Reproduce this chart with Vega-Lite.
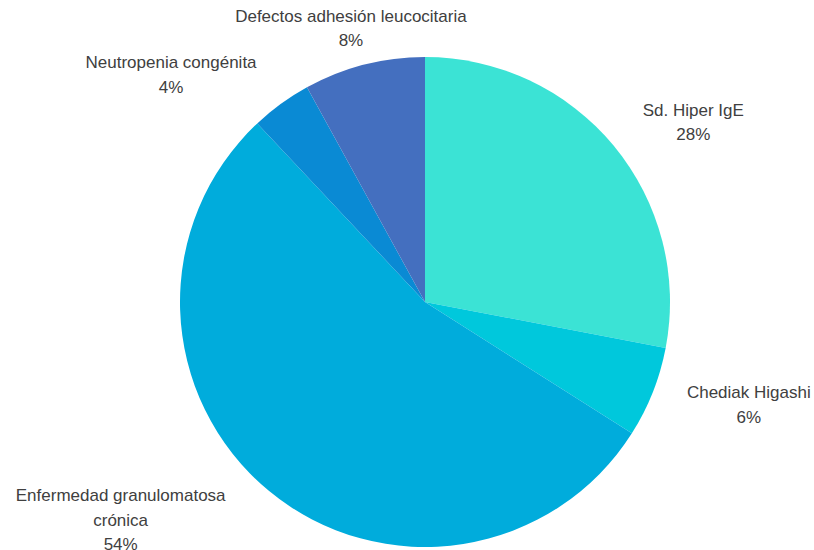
{
  "$schema": "https://vega.github.io/schema/vega-lite/v6.json",
  "width": 778,
  "height": 496,
  "padding": {"left": 36, "top": 54, "right": 0, "bottom": 0},
  "autosize": {"type": "none"},
  "background": "white",
  "view": {"stroke": null},
  "data": {
    "values": [
      {"category": "Sd. Hiper IgE", "value": 28, "label": "Sd. Hiper IgE\n28%", "order": 1},
      {"category": "Chediak Higashi", "value": 6, "label": "Chediak Higashi\n6%", "order": 2},
      {"category": "Enfermedad granulomatosa crónica", "value": 54, "label": "Enfermedad granulomatosa\ncrónica\n54%", "order": 3},
      {"category": "Neutropenia congénita", "value": 4, "label": "Neutropenia congénita\n4%", "order": 4},
      {"category": "Defectos adhesión leucocitaria", "value": 8, "label": "Defectos adhesión leucocitaria\n8%", "order": 5}
    ]
  },
  "encoding": {
    "theta": {"field": "value", "type": "quantitative", "stack": true},
    "order": {"field": "order", "type": "quantitative"}
  },
  "layer": [
    {
      "mark": {"type": "arc", "outerRadius": 245},
      "encoding": {
        "color": {
          "field": "category",
          "type": "nominal",
          "legend": null,
          "scale": {
            "domain": ["Sd. Hiper IgE", "Chediak Higashi", "Enfermedad granulomatosa crónica", "Neutropenia congénita", "Defectos adhesión leucocitaria"],
            "range": ["#3be3d5", "#00c8dc", "#00acdc", "#0a8ad4", "#446fbf"]
          }
        }
      }
    },
    {
      "mark": {"type": "text", "radius": 330, "dx": 14, "dy": 19, "lineBreak": "\n", "lineHeight": 24.5, "font": "Liberation Sans", "fontSize": 17, "fill": "#404040", "align": "center", "baseline": "middle"},
      "encoding": {"text": {"condition": {"test": "datum.order == 1", "field": "label"}, "value": ""}}
    },
    {
      "mark": {"type": "text", "radius": 330, "dx": 17, "dy": -30, "lineBreak": "\n", "lineHeight": 24.5, "font": "Liberation Sans", "fontSize": 17, "fill": "#404040", "align": "center", "baseline": "middle"},
      "encoding": {"text": {"condition": {"test": "datum.order == 2", "field": "label"}, "value": ""}}
    },
    {
      "mark": {"type": "text", "radius": 330, "dx": -94, "dy": -60, "lineBreak": "\n", "lineHeight": 24.5, "font": "Liberation Sans", "fontSize": 17, "fill": "#404040", "align": "center", "baseline": "middle"},
      "encoding": {"text": {"condition": {"test": "datum.order == 3", "field": "label"}, "value": ""}}
    },
    {
      "mark": {"type": "text", "radius": 330, "dx": -60, "dy": 28, "lineBreak": "\n", "lineHeight": 24.5, "font": "Liberation Sans", "fontSize": 17, "fill": "#404040", "align": "center", "baseline": "middle"},
      "encoding": {"text": {"condition": {"test": "datum.order == 4", "field": "label"}, "value": ""}}
    },
    {
      "mark": {"type": "text", "radius": 330, "dx": 8, "dy": 35, "lineBreak": "\n", "lineHeight": 24, "font": "Liberation Sans", "fontSize": 17, "fill": "#404040", "align": "center", "baseline": "middle"},
      "encoding": {"text": {"condition": {"test": "datum.order == 5", "field": "label"}, "value": ""}}
    }
  ]
}
